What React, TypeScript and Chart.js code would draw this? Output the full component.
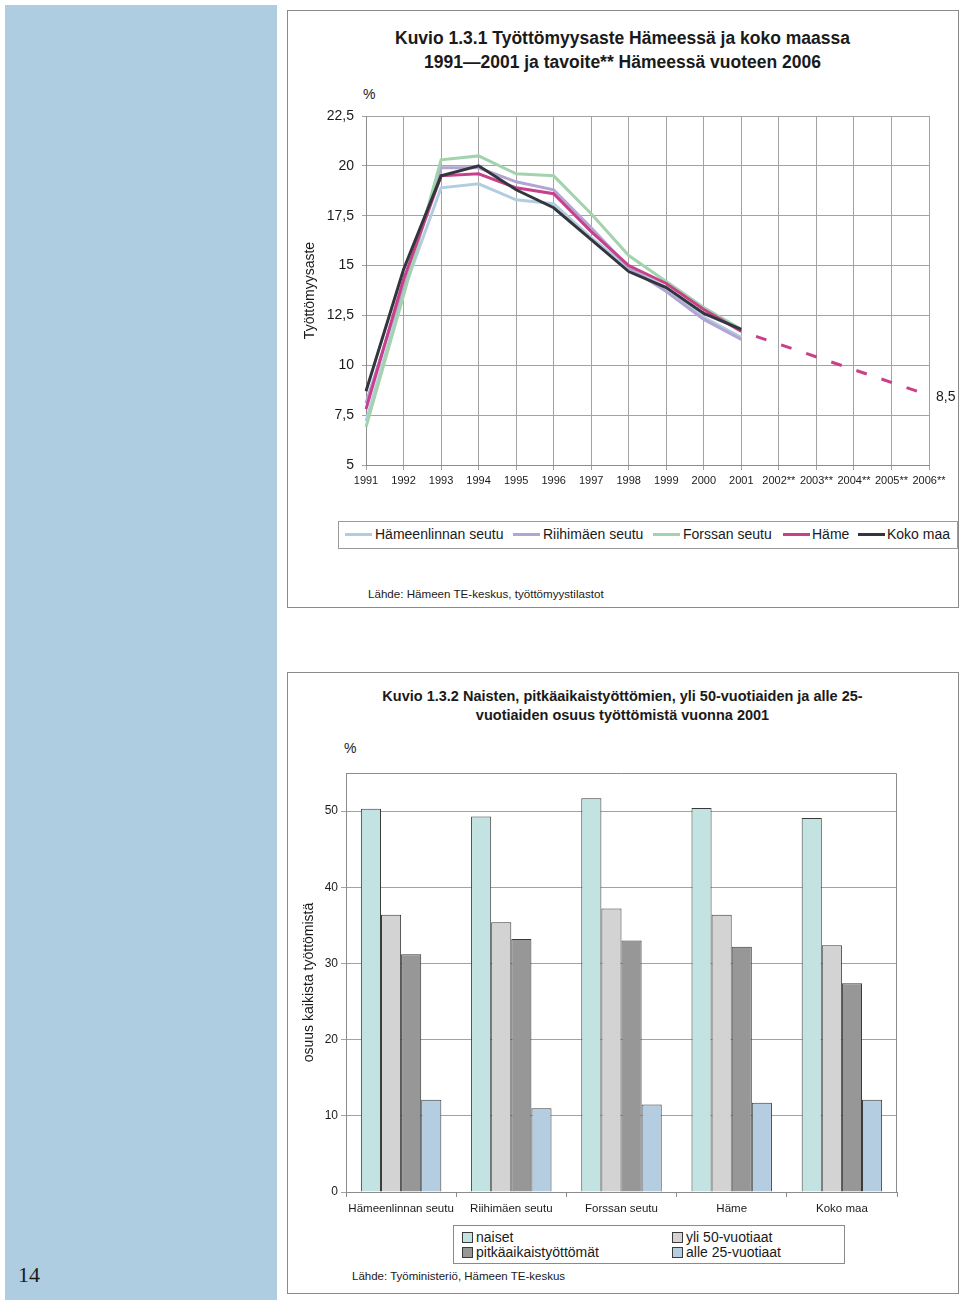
import React, { useEffect, useRef } from 'react';
import { Chart, registerables } from 'chart.js';
Chart.register(...registerables);

const FONT = "'Liberation Sans', Arial, Helvetica, sans-serif";

// ---- Chart 1: unemployment rate ----
const years = ['1991', '1992', '1993', '1994', '1995', '1996', '1997', '1998', '1999', '2000', '2001', '2002**', '2003**', '2004**', '2005**', '2006**'];
const hameenlinnanSeutu = [7.2, 13.7, 18.9, 19.1, 18.3, 18.1, 16.4, 14.9, 13.9, 12.4, 11.4, null, null, null, null, null];
const riihimaenSeutu = [8.1, 14.0, 19.9, 19.9, 19.2, 18.8, 16.9, 14.9, 13.7, 12.3, 11.3, null, null, null, null, null];
const forssanSeutu = [6.9, 13.5, 20.3, 20.5, 19.6, 19.5, 17.6, 15.5, 14.2, 12.9, 11.8, null, null, null, null, null];
const hame = [7.8, 14.3, 19.5, 19.6, 18.9, 18.6, 16.7, 15.0, 14.1, 12.8, 11.7, null, null, null, null, null];
const kokoMaa = [8.7, 14.8, 19.5, 20.0, 18.8, 17.9, 16.3, 14.7, 13.9, 12.6, 11.8, null, null, null, null, null];
const hameTavoite = [null, null, null, null, null, null, null, null, null, null, 11.7, null, null, null, null, 8.5];

const lineSeriesNames = ['Hämeenlinnan seutu', 'Riihimäen seutu', 'Forssan seutu', 'Häme', 'Koko maa'];
const lineColors = ['#b3cde0', '#b2a5d4', '#a3d3ad', '#c9408a', '#33373d'];

// ---- Chart 2: shares ----
const regions = ['Hämeenlinnan seutu', 'Riihimäen seutu', 'Forssan seutu', 'Häme', 'Koko maa'];
const naiset = [50.3, 49.3, 51.7, 50.4, 49.1];
const yli50 = [36.4, 35.4, 37.2, 36.4, 32.4];
const pitkaaikais = [31.2, 33.2, 33.0, 32.2, 27.4];
const alle25 = [12.1, 11.0, 11.5, 11.7, 12.1];
const barSeriesNames = ['naiset', 'yli 50-vuotiaat', 'pitkäaikaistyöttömät', 'alle 25-vuotiaat'];
const barColors = ['#c2e3e1', '#d3d3d3', '#979797', '#b5cde0'];
const barTicks = [0, 10, 20, 30, 40, 50];

const GRID = '#a3a3a3';
const AXIS = '#8c8c8c';
const TEXT = '#1a1a1a';

function LineChart() {
  const ref = useRef<HTMLCanvasElement>(null);
  useEffect(() => {
    const series = [hameenlinnanSeutu, riihimaenSeutu, forssanSeutu, hame, kokoMaa];
    const datasets: any[] = series.map((d, i) => ({
      label: lineSeriesNames[i],
      data: d,
      borderColor: lineColors[i],
      backgroundColor: lineColors[i],
      borderWidth: 3,
      pointRadius: 0,
      tension: 0,
      fill: false,
      order: 4 - i,
    }));
    datasets.push({
      label: 'Häme tavoite',
      data: hameTavoite,
      borderColor: lineColors[3],
      borderWidth: 3,
      borderDash: [11, 15.5],
      borderDashOffset: 11,
      pointRadius: 0,
      spanGaps: true,
      fill: false,
      order: 5,
    });
    const chart = new Chart(ref.current!, {
      type: 'line',
      data: { labels: years, datasets },
      options: {
        animation: false,
        responsive: false,
        devicePixelRatio: 1,
        layout: { padding: { top: 31, right: 26, left: 0, bottom: 0 } },
        plugins: { legend: { display: false }, tooltip: { enabled: false } },
        scales: {
          x: {
            type: 'category',
            offset: false,
            grid: { color: GRID, tickLength: 5 },
            border: { color: AXIS },
            ticks: { font: { family: FONT, size: 11 }, color: TEXT, padding: 4, maxRotation: 0, autoSkip: false },
            afterFit: (s: any) => { s.height = 30; },
          },
          y: {
            min: 5,
            max: 22.5,
            grid: { color: GRID, tickLength: 4 },
            border: { color: AXIS },
            ticks: {
              stepSize: 2.5,
              font: { family: FONT, size: 14 },
              color: TEXT,
              padding: 8,
              callback: (v: any) => String(v).replace('.', ','),
            },
            title: { display: true, text: 'Työttömyysaste', font: { family: FONT, size: 14 }, color: TEXT, padding: { top: 12, bottom: 0 } },
            afterFit: (s: any) => { s.width = 76; },
          },
        },
      },
    });
    return () => chart.destroy();
  }, []);
  return <canvas ref={ref} width={665} height={410} style={{ position: 'absolute', left: 290, top: 85, width: 665, height: 410 }} />;
}

const framePlugin = {
  id: 'frame',
  afterDatasetsDraw(chart: any) {
    const { ctx, chartArea } = chart;
    ctx.save();
    ctx.strokeStyle = AXIS;
    ctx.lineWidth = 1;
    ctx.beginPath();
    ctx.moveTo(chartArea.left, chartArea.top + 0.5);
    ctx.lineTo(chartArea.right - 0.5, chartArea.top + 0.5);
    ctx.lineTo(chartArea.right - 0.5, chartArea.bottom);
    ctx.stroke();
    ctx.restore();
  },
};

function BarChart() {
  const ref = useRef<HTMLCanvasElement>(null);
  useEffect(() => {
    const series = [naiset, yli50, pitkaaikais, alle25];
    const chart = new Chart(ref.current!, {
      type: 'bar',
      data: {
        labels: regions,
        datasets: series.map((d, i) => ({
          label: barSeriesNames[i],
          data: d,
          backgroundColor: barColors[i],
          borderColor: '#3a3a3a',
          borderWidth: 1,
          borderSkipped: 'bottom',
          categoryPercentage: 0.73,
          barPercentage: 1.0,
        })),
      },
      options: {
        animation: false,
        responsive: false,
        devicePixelRatio: 1,
        layout: { padding: { top: 13, right: 58, left: 0, bottom: 0 } },
        plugins: { legend: { display: false }, tooltip: { enabled: false } },
        scales: {
          x: {
            grid: { drawOnChartArea: false, tickLength: 5, color: AXIS, offset: true },
            border: { color: AXIS },
            ticks: { font: { family: FONT, size: 11.5 }, color: TEXT, padding: 5, maxRotation: 0, autoSkip: false },
            afterFit: (s: any) => { s.height = 30; },
          },
          y: {
            min: 0,
            max: 55,
            afterBuildTicks: (s: any) => { s.ticks = barTicks.map((v) => ({ value: v })); },
            grid: { color: GRID, tickLength: 5 },
            border: { color: AXIS },
            ticks: { font: { family: FONT, size: 12 }, color: TEXT, padding: 3 },
            title: { display: true, text: 'osuus kaikista työttömistä', font: { family: FONT, size: 14 }, color: TEXT, padding: { top: 11, bottom: 0 } },
            afterFit: (s: any) => { s.width = 56; },
          },
        },
      },
      plugins: [framePlugin],
    });
    return () => chart.destroy();
  }, []);
  return <canvas ref={ref} width={665} height={462} style={{ position: 'absolute', left: 290, top: 760, width: 665, height: 462 }} />;
}

const abs = (s: React.CSSProperties): React.CSSProperties => ({ position: 'absolute', fontFamily: FONT, color: TEXT, whiteSpace: 'nowrap', ...s });

export default function App() {
  const lineLegend = [
    { sx: 345, tx: 375 },
    { sx: 513, tx: 543 },
    { sx: 653, tx: 683 },
    { sx: 783, tx: 812 },
    { sx: 858, tx: 887 },
  ];
  return (
    <div style={{ position: 'absolute', left: 0, top: 0, width: 960, height: 1305, background: '#fff', overflow: 'hidden' }}>
      {/* sidebar */}
      <div style={{ position: 'absolute', left: 5, top: 5, width: 272, height: 1295, background: '#aecde0' }} />
      <div style={abs({ left: 18, top: 1262, fontFamily: "'Liberation Serif', 'Times New Roman', serif", fontSize: 22, lineHeight: '26px' })}>14</div>

      {/* top panel */}
      <div style={{ position: 'absolute', left: 287, top: 10, width: 670, height: 596, border: '1px solid #8a8a8a' }} />
      <div style={abs({ left: 287, top: 26, width: 671, textAlign: 'center', fontSize: 17.5, fontWeight: 'bold', lineHeight: '24px', whiteSpace: 'normal' })}>
        Kuvio 1.3.1 Työttömyysaste Hämeessä ja koko maassa<br />1991—2001 ja tavoite** Hämeessä vuoteen 2006
      </div>
      <div style={abs({ left: 363, top: 86, fontSize: 14, lineHeight: '16px' })}>%</div>
      <LineChart />
      <div style={abs({ left: 936, top: 388, fontSize: 14, lineHeight: '16px' })}>8,5</div>
      <div style={{ position: 'absolute', left: 338, top: 521, width: 618, height: 26, border: '1px solid #9a9a9a' }} />
      {lineLegend.map((p, i) => (
        <React.Fragment key={i}>
          <div style={{ position: 'absolute', left: p.sx, top: 533, width: 27, height: 3, background: lineColors[i] }} />
          <div style={abs({ left: p.tx, top: 526, fontSize: 14, lineHeight: '17px' })}>{lineSeriesNames[i]}</div>
        </React.Fragment>
      ))}
      <div style={abs({ left: 368, top: 587, fontSize: 11.6, lineHeight: '14px' })}>Lähde: Hämeen TE-keskus, työttömyystilastot</div>

      {/* bottom panel */}
      <div style={{ position: 'absolute', left: 287, top: 672, width: 670, height: 620, border: '1px solid #8a8a8a' }} />
      <div style={abs({ left: 287, top: 687, width: 671, textAlign: 'center', fontSize: 14.5, fontWeight: 'bold', lineHeight: '19px', whiteSpace: 'normal' })}>
        Kuvio 1.3.2 Naisten, pitkäaikaistyöttömien, yli 50-vuotiaiden ja alle 25-<br />vuotiaiden osuus työttömistä vuonna 2001
      </div>
      <div style={abs({ left: 344, top: 740, fontSize: 14, lineHeight: '16px' })}>%</div>
      <BarChart />
      <div style={{ position: 'absolute', left: 453, top: 1225, width: 390, height: 37, border: '1px solid #8a8a8a' }} />
      {[0, 2, 1, 3].map((si, k) => {
        const col = k < 2 ? 0 : 1;
        const row = k % 2;
        const sx = col === 0 ? 462 : 672;
        const cy = row === 0 ? 1237 : 1252;
        return (
          <React.Fragment key={si}>
            <div style={{ position: 'absolute', left: sx, top: cy - 5, width: 9, height: 9, background: barColors[si], border: '1px solid #3a3a3a' }} />
            <div style={abs({ left: sx + 14, top: cy - 8, fontSize: 14, lineHeight: '16px' })}>{barSeriesNames[si]}</div>
          </React.Fragment>
        );
      })}
      <div style={abs({ left: 352, top: 1269, fontSize: 11.5, lineHeight: '14px' })}>Lähde: Työministeriö, Hämeen TE-keskus</div>
    </div>
  );
}
